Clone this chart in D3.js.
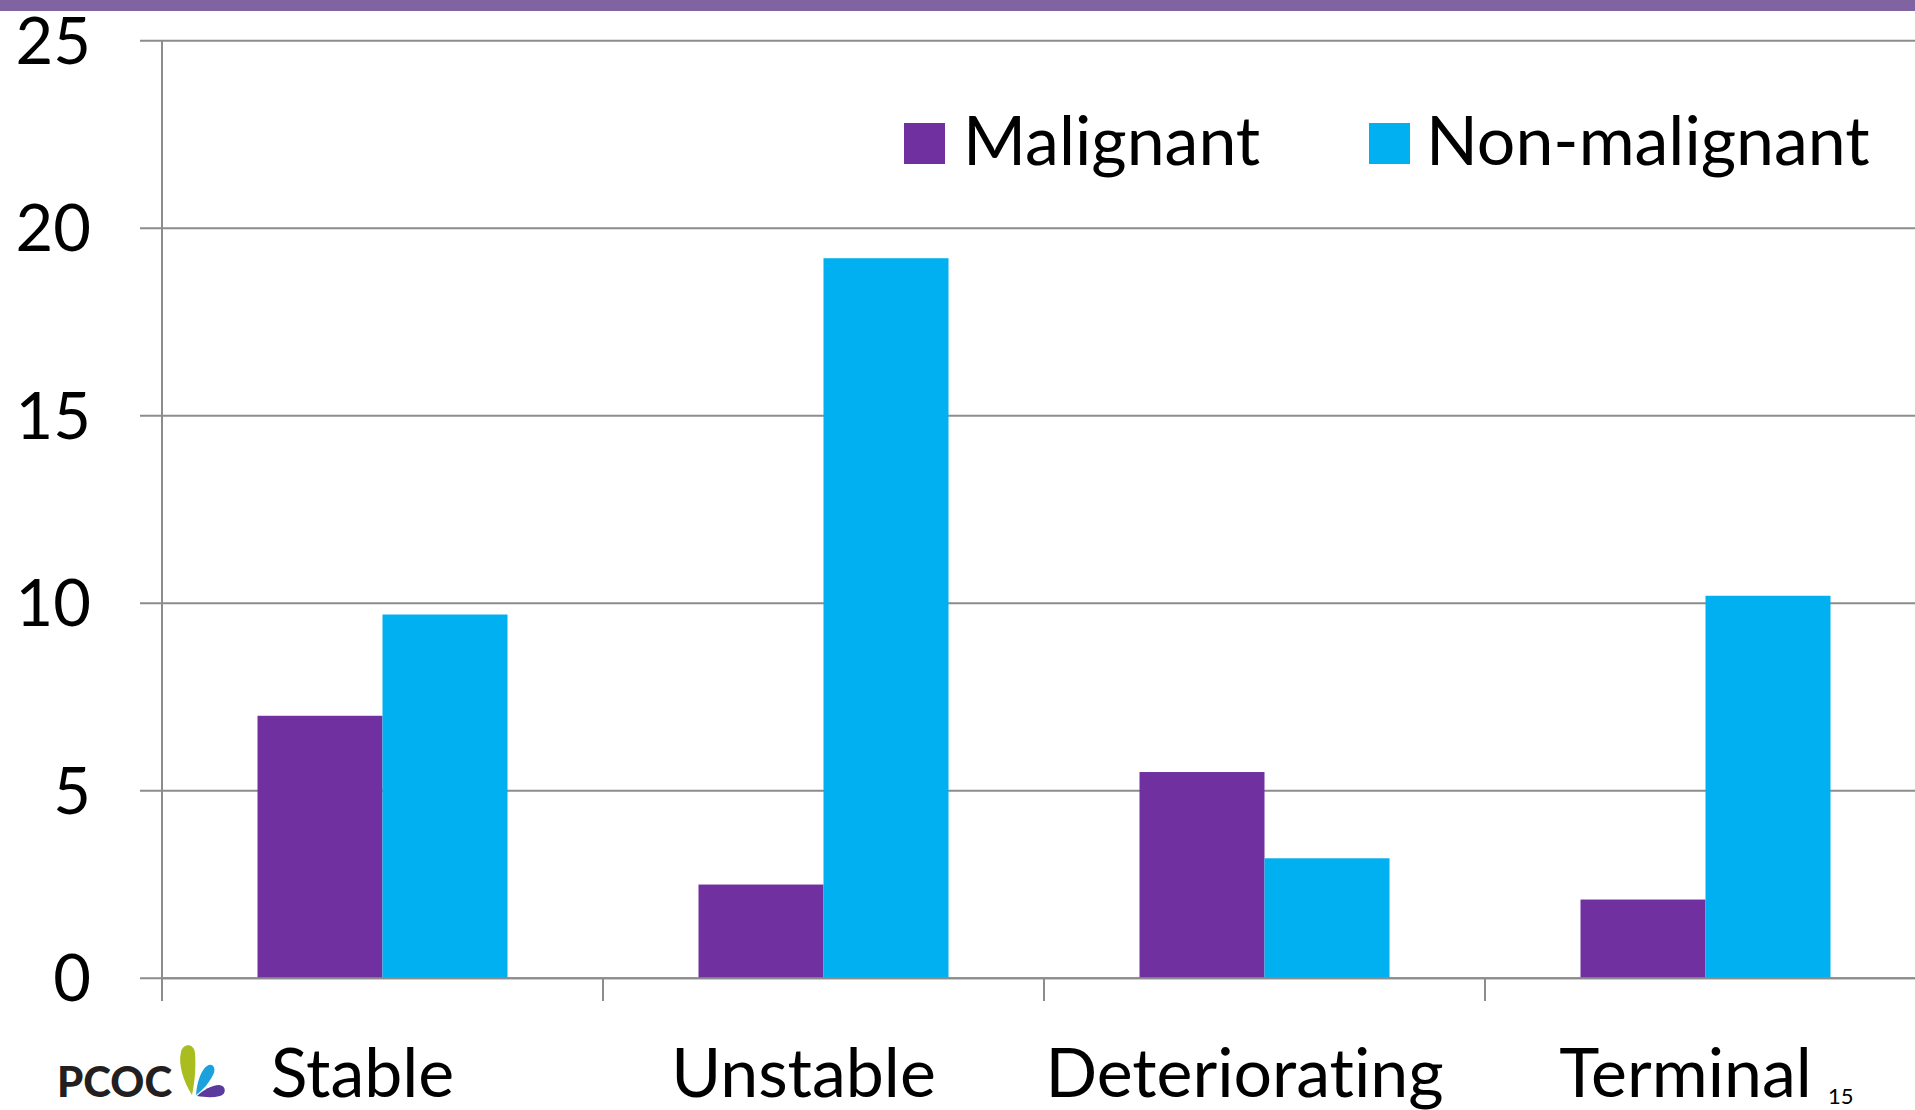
<!DOCTYPE html>
<html>
<head>
<meta charset="utf-8">
<script src="https://cdnjs.cloudflare.com/ajax/libs/d3/7.8.5/d3.min.js"></script>
<style>
  html, body { margin: 0; padding: 0; background: #fff; overflow: hidden; }
  svg { display: block; }
  text { font-family: Lato, "Open Sans", sans-serif; fill: #000; font-variant-ligatures: none; font-feature-settings: "liga" 0, "clig" 0; }
</style>
</head>
<body>
<svg id="chart" width="1915" height="1110"></svg>
<script>
// Phase of illness at episode start, by diagnosis group
const categories = ["Stable", "Unstable", "Deteriorating", "Terminal"];
const seriesNames = ["Malignant", "Non-malignant"];
const malignant = [7.0, 2.5, 5.5, 2.1];
const nonMalignant = [9.7, 19.2, 3.2, 10.2];
const yTicks = [0, 5, 10, 15, 20, 25];
const seriesColors = ["#7030A0", "#00B0F0"];

const W = 1915, H = 1110;
const svg = d3.select("#chart");

// slide header band
svg.append("rect").attr("x", 0).attr("y", 0).attr("width", W).attr("height", 11).attr("fill", "#8064A2");

const plotLeft = 162, band = 441;
const x = d3.scaleBand().domain(categories).range([plotLeft, plotLeft + band * categories.length]);
const xInner = d3.scaleBand().domain(seriesNames).range([0, x.bandwidth()]).paddingInner(0).paddingOuter(0.764);
const y = d3.scaleLinear().domain([0, 25]).range([978.3, 40.7]);

const rows = categories.map((c, i) => ({ cat: c, values: [malignant[i], nonMalignant[i]] }));

// horizontal gridlines with short outer ticks
const grid = svg.append("g").attr("class", "grid");
grid.selectAll("line").data(yTicks).join("line")
  .attr("x1", 140).attr("x2", W)
  .attr("y1", d => y(d)).attr("y2", d => y(d))
  .attr("stroke", "#8c8c8c").attr("stroke-width", 2);

// y tick labels
svg.append("g").selectAll("text").data(yTicks).join("text")
  .attr("x", 91).attr("y", d => y(d) + 23)
  .attr("text-anchor", "end")
  .attr("font-size", 65)
  .text(d => d);

// bars
const groups = svg.append("g").selectAll("g").data(rows).join("g")
  .attr("transform", d => `translate(${x(d.cat)},0)`);
groups.selectAll("rect").data(d => d.values.map((v, j) => ({ v, s: seriesNames[j], j }))).join("rect")
  .attr("x", d => xInner(d.s))
  .attr("width", xInner.bandwidth())
  .attr("y", d => y(d.v))
  .attr("height", d => y(0) - y(d.v))
  .attr("fill", d => seriesColors[d.j]);

// axes lines: vertical value axis and category separators
svg.append("line").attr("x1", plotLeft).attr("x2", plotLeft).attr("y1", y(25)).attr("y2", 1001)
  .attr("stroke", "#8c8c8c").attr("stroke-width", 2);
svg.append("line").attr("x1", plotLeft).attr("x2", W).attr("y1", y(0)).attr("y2", y(0))
  .attr("stroke", "#8c8c8c").attr("stroke-width", 2);
svg.append("g").selectAll("line").data(categories.slice(1)).join("line")
  .attr("x1", d => x(d)).attr("x2", d => x(d))
  .attr("y1", y(0)).attr("y2", 1001)
  .attr("stroke", "#8c8c8c").attr("stroke-width", 2);

// category labels
svg.append("g").selectAll("text").data(categories).join("text")
  .attr("x", d => x(d) + x.bandwidth() / 2 - 20)
  .attr("y", 1097)
  .attr("text-anchor", "middle")
  .attr("font-size", 68)
  .text(d => d);

// legend
const legendPos = [{ sq: 904, tx: 963 }, { sq: 1369, tx: 1426 }];
const legend = svg.append("g").selectAll("g").data(seriesNames).join("g");
legend.append("rect")
  .attr("x", (d, i) => legendPos[i].sq).attr("y", 123)
  .attr("width", 41).attr("height", 41)
  .attr("fill", (d, i) => seriesColors[i]);
legend.append("text")
  .attr("x", (d, i) => legendPos[i].tx).attr("y", 165)
  .attr("font-size", 68)
  .text(d => d);

// PCOC logo
const logo = svg.append("g");
logo.append("text").attr("x", 57).attr("y", 1097)
  .attr("font-size", 42).attr("font-weight", 900)
  .style("fill", "#231f20")
  .text("PCOC");
logo.append("path").attr("fill", "#A9BD1F")
  .attr("d", "M192,1095 C183,1081 178,1063 181,1052 C183,1043 194,1043 195,1053 C196,1066 195,1081 192,1095 Z");
logo.append("path").attr("fill", "#1BA1DC")
  .attr("d", "M196,1095 C197,1082 201,1070 207,1066 C212,1062 217,1068 213,1075 C209,1083 203,1090 196,1095 Z");
logo.append("path").attr("fill", "#5A3A9D")
  .attr("d", "M197,1096 C203,1090 212,1085 219,1085 C226,1085 227,1094 220,1096 C212,1098 204,1097 197,1096 Z");

// slide number
svg.append("text").attr("x", 1828).attr("y", 1104).attr("font-size", 22).text("15");
</script>
</body>
</html>
